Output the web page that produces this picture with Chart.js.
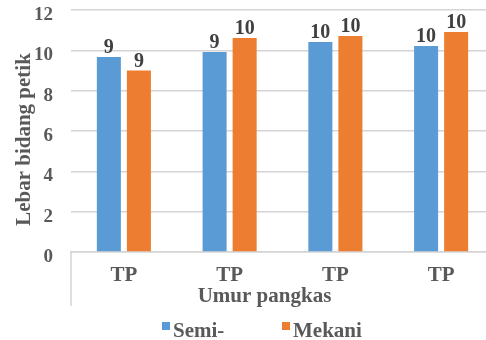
<!DOCTYPE html>
<html>
<head>
<meta charset="utf-8">
<script src="https://cdn.jsdelivr.net/npm/chart.js@4/dist/chart.umd.min.js"></script>
<style>
  html, body { margin: 0; padding: 0; background: #fff; overflow: hidden; width: 486px; height: 340px; }
  #wrap { width: 496px; height: 340px; }
</style>
</head>
<body>
<div id="wrap"><canvas id="c" width="496" height="340"></canvas></div>
<script>
// Categories and series
const categories = ['TP', 'TP', 'TP', 'TP'];
const seriesNames = ['Semi-', 'Mekani'];
const semiValues = [9.67, 9.92, 10.41, 10.21];
const mekaniValues = [9.0, 10.61, 10.71, 10.91];
const yTickMin = 0;
const yTickMax = 12;
const yTickStep = 2;
const xAxisTitle = 'Umur pangkas';
const yAxisTitle = 'Lebar bidang petik';

const seriesColors = ['#5b9bd5', '#ed7d31'];
const FONT = '"Liberation Serif", "Times New Roman", serif';
const TEXT = '#595959';
const GRID = '#d4d4d4';

// Whole-number labels above each bar
const valueLabels = {
  id: 'valueLabels',
  afterDatasetsDraw(chart) {
    const ctx = chart.ctx;
    ctx.save();
    ctx.font = 'bold 20px ' + FONT;
    ctx.fillStyle = '#404040';
    ctx.textAlign = 'center';
    ctx.textBaseline = 'alphabetic';
    chart.data.datasets.forEach((ds, i) => {
      chart.getDatasetMeta(i).data.forEach((bar, j) => {
        ctx.fillText(String(Math.floor(ds.data[j])), bar.x, bar.y - 4);
      });
    });
    ctx.restore();
  }
};

// Axis titles, category divider and legend
const decorations = {
  id: 'decorations',
  afterDraw(chart) {
    const ctx = chart.ctx;
    const area = chart.chartArea;
    ctx.save();
    // divider under the category axis
    ctx.strokeStyle = GRID;
    ctx.lineWidth = 1.5;
    ctx.beginPath();
    ctx.moveTo(area.left, area.bottom);
    ctx.lineTo(area.left, area.bottom + 54);
    ctx.stroke();

    ctx.fillStyle = TEXT;
    ctx.font = 'bold 21px ' + FONT;
    // x-axis title
    ctx.textAlign = 'center';
    ctx.textBaseline = 'alphabetic';
    ctx.fillText(xAxisTitle, 264.5, 302);
    // y-axis title
    ctx.save();
    ctx.translate(24.5, 139.5);
    ctx.rotate(-Math.PI / 2);
    ctx.textBaseline = 'middle';
    ctx.fillText(yAxisTitle, 0, 0);
    ctx.restore();

    // legend
    const items = [{ x: 162 }, { x: 282 }];
    ctx.textAlign = 'left';
    ctx.textBaseline = 'alphabetic';
    chart.data.datasets.forEach((ds, i) => {
      const x = items[i].x;
      ctx.fillStyle = ds.backgroundColor;
      ctx.fillRect(x, 322, 8, 8);
      ctx.fillStyle = TEXT;
      ctx.fillText(ds.label, x + 11, 337);
    });
    ctx.restore();
  }
};

new Chart(document.getElementById('c'), {
  type: 'bar',
  data: {
    labels: categories,
    datasets: [
      { label: seriesNames[0], data: semiValues, backgroundColor: seriesColors[0] },
      { label: seriesNames[1], data: mekaniValues, backgroundColor: seriesColors[1] }
    ]
  },
  options: {
    responsive: false,
    animation: false,
    devicePixelRatio: 1,
    categoryPercentage: 0.568,
    barPercentage: 0.8,
    layout: { padding: { top: 10, right: 2, left: 0, bottom: 0 } },
    plugins: {
      legend: { display: false },
      tooltip: { enabled: false },
      title: { display: false }
    },
    scales: {
      x: {
        grid: { display: false },
        border: { display: true, color: GRID, width: 1.5 },
        ticks: {
          color: TEXT,
          font: { family: FONT, size: 21, weight: 'bold', lineHeight: 1 },
          padding: 5,
          maxRotation: 0
        },
        afterFit(scale) {
          scale.height = 88;
          scale.paddingLeft = 0;
          scale.paddingRight = 0;
        }
      },
      y: {
        min: yTickMin,
        max: yTickMax,
        grid: { color: GRID, lineWidth: 1.5, drawTicks: false },
        border: { display: false },
        ticks: {
          stepSize: yTickStep,
          color: TEXT,
          font: { family: FONT, size: 19, weight: 'bold', lineHeight: 1 },
          padding: 18,
          labelOffset: 5
        },
        afterFit(scale) {
          scale.width = 71;
          scale.paddingTop = 0;
          scale.paddingBottom = 0;
        }
      }
    }
  },
  plugins: [valueLabels, decorations]
});
</script>
</body>
</html>
